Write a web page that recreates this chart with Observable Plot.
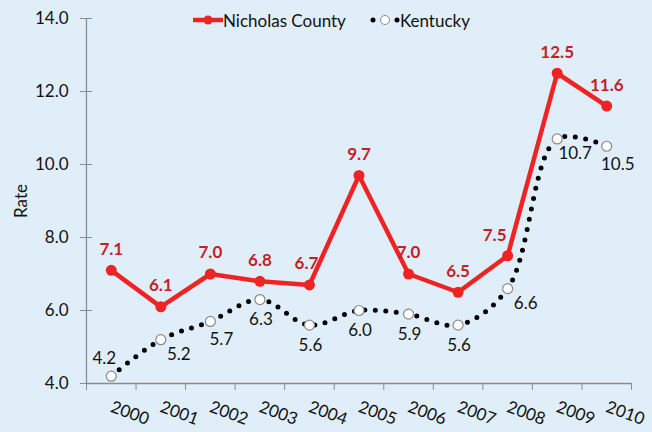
<!DOCTYPE html>
<html><head><meta charset="utf-8">
<script src="https://cdn.jsdelivr.net/npm/d3@7"></script>
<script src="https://cdn.jsdelivr.net/npm/@observablehq/plot@0.6"></script>
<style>
body{margin:0;background:#e0eefa;font-family:Lato,"Open Sans",sans-serif}
#wrap{position:relative;width:652px;height:432px;overflow:hidden}
#legend{position:absolute;top:9px;left:193px;height:22px;display:flex;align-items:center;font-size:17px;color:#111}
#legend svg{display:block}
</style></head><body>
<div id="wrap"><div id="chart"></div><div id="legend"></div></div>
<script>
const years = [2000,2001,2002,2003,2004,2005,2006,2007,2008,2009,2010];
const nicholas = [7.1,6.1,7.0,6.8,6.7,9.7,7.0,6.5,7.5,12.5,11.6];
const kentucky = [4.2,5.2,5.7,6.3,5.6,6.0,5.9,5.6,6.6,10.7,10.5];
const yTicks = [4,6,8,10,12,14];
const seriesNames = ["Nicholas County","Kentucky"];

const RED = "#ee2424", RED_TEXT = "#c41f28", BG = "#e0eefa", AXIS = "#8c8c8c";
const data = years.map((year,i)=>({year, nicholas:nicholas[i], kentucky:kentucky[i]}));
const edges = [...years.map(y=>y-0.5), years[years.length-1]+0.5];
const fmt = v => v.toFixed(1);

// Kentucky label placement groups
const aboveLeft = d => d.year === years[0];
const belowRightFar = d => [2001,2008,2009].includes(d.year);
const belowRight = d => [2002,2010].includes(d.year);
const below = d => !aboveLeft(d) && !belowRightFar(d) && !belowRight(d);
// Nicholas label placement groups
const nLeft = d => d.year === 2008;
const nSlightLeft = d => d.year === 2004;
const nCenter = d => !nLeft(d) && !nSlightLeft(d);

const chart = Plot.plot({
  width:652, height:432,
  marginTop:18, marginBottom:49, marginLeft:86, marginRight:21,
  style:{background:BG, fontFamily:"Lato, 'Open Sans', sans-serif", fontSize:"17px", color:"#111", overflow:"visible"},
  x:{domain:[edges[0], edges[edges.length-1]], axis:null},
  y:{domain:[yTicks[0], yTicks[yTicks.length-1]], axis:null},
  marks:[
    Plot.ruleY([yTicks[0]],{stroke:AXIS, strokeWidth:1.3}),
    Plot.ruleX([edges[0]],{stroke:AXIS, strokeWidth:1.3}),
    Plot.axisX(edges,{tickSize:7, tickFormat:()=>"", stroke:AXIS, label:null}),
    Plot.axisX(years,{tickSize:0, tickPadding:23, tickRotate:20, tickFormat:d=>String(d), fontSize:17, fill:"#111", label:null}),
    Plot.axisY(yTicks,{tickSize:12, dx:6, tickFormat:()=>"", stroke:AXIS, label:null}),
    Plot.axisY(yTicks,{tickSize:0, tickPadding:18, tickFormat:fmt, fontSize:17, fill:"#111",
      label:"Rate", labelAnchor:"center", labelArrow:"none", labelOffset:72}),
    // Kentucky
    Plot.line(data,{x:"year", y:"kentucky", curve:"catmull-rom", stroke:"#000", strokeWidth:5,
      strokeDasharray:"0 10.5", strokeLinecap:"round"}),
    Plot.dot(data,{x:"year", y:"kentucky", r:5, fill:"white", stroke:"#8a8a8a", strokeWidth:1.2}),
    Plot.text(data.filter(aboveLeft),{x:"year", y:"kentucky", text:d=>fmt(d.kentucky), dx:-7, dy:-18, fill:"#111", fontSize:17}),
    Plot.text(data.filter(belowRightFar),{x:"year", y:"kentucky", text:d=>fmt(d.kentucky), dx:18, dy:15, fill:"#111", fontSize:17}),
    Plot.text(data.filter(belowRight),{x:"year", y:"kentucky", text:d=>fmt(d.kentucky), dx:11, dy:18, fill:"#111", fontSize:17}),
    Plot.text(data.filter(below),{x:"year", y:"kentucky", text:d=>fmt(d.kentucky), dx:1, dy:20, fill:"#111", fontSize:17}),
    // Nicholas County
    Plot.line(data,{x:"year", y:"nicholas", stroke:RED, strokeWidth:4.5}),
    Plot.dot(data,{x:"year", y:"nicholas", r:5.5, fill:RED}),
    Plot.text(data.filter(nCenter),{x:"year", y:"nicholas", text:d=>fmt(d.nicholas), dy:-21, fill:RED_TEXT, fontWeight:"bold", fontSize:17}),
    Plot.text(data.filter(nSlightLeft),{x:"year", y:"nicholas", text:d=>fmt(d.nicholas), dx:-3, dy:-21, fill:RED_TEXT, fontWeight:"bold", fontSize:17}),
    Plot.text(data.filter(nLeft),{x:"year", y:"nicholas", text:d=>fmt(d.nicholas), dx:-13, dy:-20, fill:RED_TEXT, fontWeight:"bold", fontSize:17})
  ]
});
document.getElementById("chart").appendChild(chart);

// Legend
const legend = d3.select("#legend");
const s1 = legend.append("svg").attr("width",30).attr("height",14);
s1.append("line").attr("x1",0).attr("x2",30).attr("y1",7).attr("y2",7).attr("stroke",RED).attr("stroke-width",4.5);
s1.append("circle").attr("cx",15).attr("cy",7).attr("r",4.5).attr("fill",RED);
legend.append("span").text(seriesNames[0]);
const s2 = legend.append("svg").attr("width",30).attr("height",14).style("margin-left","24px");
s2.append("circle").attr("cx",3).attr("cy",7).attr("r",2.5).attr("fill","#000");
s2.append("circle").attr("cx",15).attr("cy",7).attr("r",4.5).attr("fill","white").attr("stroke","#8a8a8a").attr("stroke-width",1);
s2.append("circle").attr("cx",27).attr("cy",7).attr("r",2.5).attr("fill","#000");
legend.append("span").text(seriesNames[1]);
</script>
</body></html>
